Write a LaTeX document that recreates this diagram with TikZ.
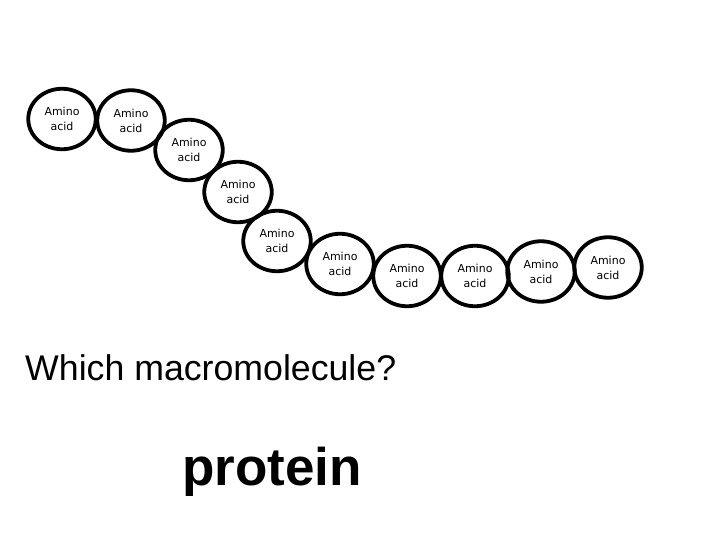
\documentclass[tikz,border=0pt]{standalone}
\usepackage{fontspec}
\setmainfont{Liberation Sans}
\newfontfamily\aafont{DejaVu Sans}
\usetikzlibrary{shapes.geometric}
\begin{document}
\begin{tikzpicture}[x=1pt,y=-1pt,
  aa/.style={draw=black, line width=3.8pt, ellipse, inner sep=0pt,
    minimum width=67.5pt, minimum height=60.5pt, align=center,
    font=\aafont\fontsize{11}{15}\selectfont}]
\useasboundingbox[fill=white] (0,0) rectangle (720,540);
\node[aa] (a1) at (62,119) {Amino\\acid};
\node[aa] (a2) at (131,120.5) {Amino\\acid};
\node[aa] (a3) at (189,150) {Amino\\acid};
\node[aa] (a4) at (238,192) {Amino\\acid};
\node[aa] (a5) at (277,241) {Amino\\acid};
\node[aa] (a6) at (340,264) {Amino\\acid};
\node[aa] (a7) at (407,276) {Amino\\acid};
\node[aa] (a8) at (475,276) {Amino\\acid};
\node[aa] (a9) at (541,271.5) {Amino\\acid};
\node[aa] (a10) at (608,267.5) {Amino\\acid};
\node[anchor=base west, inner sep=0pt, font=\fontsize{35.7}{40}\selectfont] (q) at (25,380) {Which macromolecule?};
\node[anchor=base west, inner sep=0pt, font=\bfseries\fontsize{53}{60}\selectfont] (p) at (182,485) {protein};
\end{tikzpicture}
\end{document}
